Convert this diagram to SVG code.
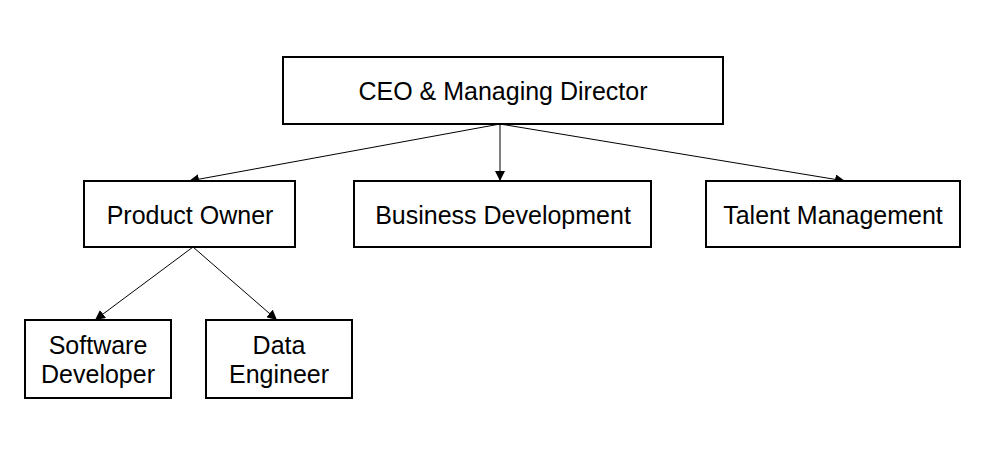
<svg xmlns="http://www.w3.org/2000/svg" width="993" height="463" viewBox="0 0 993 463">
<defs>
<style>
.box{fill:#fff;stroke:#000;stroke-width:2}
.lbl{font-family:"Liberation Sans",Arial,sans-serif;font-size:25px;fill:#000;text-anchor:middle}
.edge{stroke:#000;stroke-width:1;fill:none;marker-end:url(#arr)}
</style>
<marker id="arr" viewBox="0 0 10 10" refX="10" refY="5" markerWidth="10" markerHeight="10" markerUnits="userSpaceOnUse" orient="auto">
<path d="M0,0 L10,5 L0,10 z" fill="#000"/>
</marker>
</defs>
<rect width="993" height="463" fill="#fff"/>
<g id="connectors">
<line class="edge" x1="500" y1="124" x2="189" y2="181"/>
<line class="edge" x1="500" y1="124" x2="500" y2="181"/>
<line class="edge" x1="500" y1="124" x2="845" y2="181"/>
<line class="edge" x1="193" y1="247" x2="95" y2="320"/>
<line class="edge" x1="193" y1="247" x2="277" y2="320"/>
</g>
<g id="ceo">
<rect class="box" x="283" y="57" width="440" height="67"/>
<text class="lbl" x="503" y="100">CEO &amp; Managing Director</text>
</g>
<g id="product-owner">
<rect class="box" x="84" y="181" width="211" height="66"/>
<text class="lbl" x="190" y="224">Product Owner</text>
</g>
<g id="business-development">
<rect class="box" x="354" y="181" width="297" height="66"/>
<text class="lbl" x="503" y="224">Business Development</text>
</g>
<g id="talent-management">
<rect class="box" x="706" y="181" width="254" height="66"/>
<text class="lbl" x="833" y="224">Talent Management</text>
</g>
<g id="software-developer">
<rect class="box" x="25" y="320" width="146" height="78"/>
<text class="lbl" x="98" y="354">Software</text>
<text class="lbl" x="98" y="383">Developer</text>
</g>
<g id="data-engineer">
<rect class="box" x="206" y="320" width="146" height="78"/>
<text class="lbl" x="279" y="354">Data</text>
<text class="lbl" x="279" y="383">Engineer</text>
</g>
</svg>
